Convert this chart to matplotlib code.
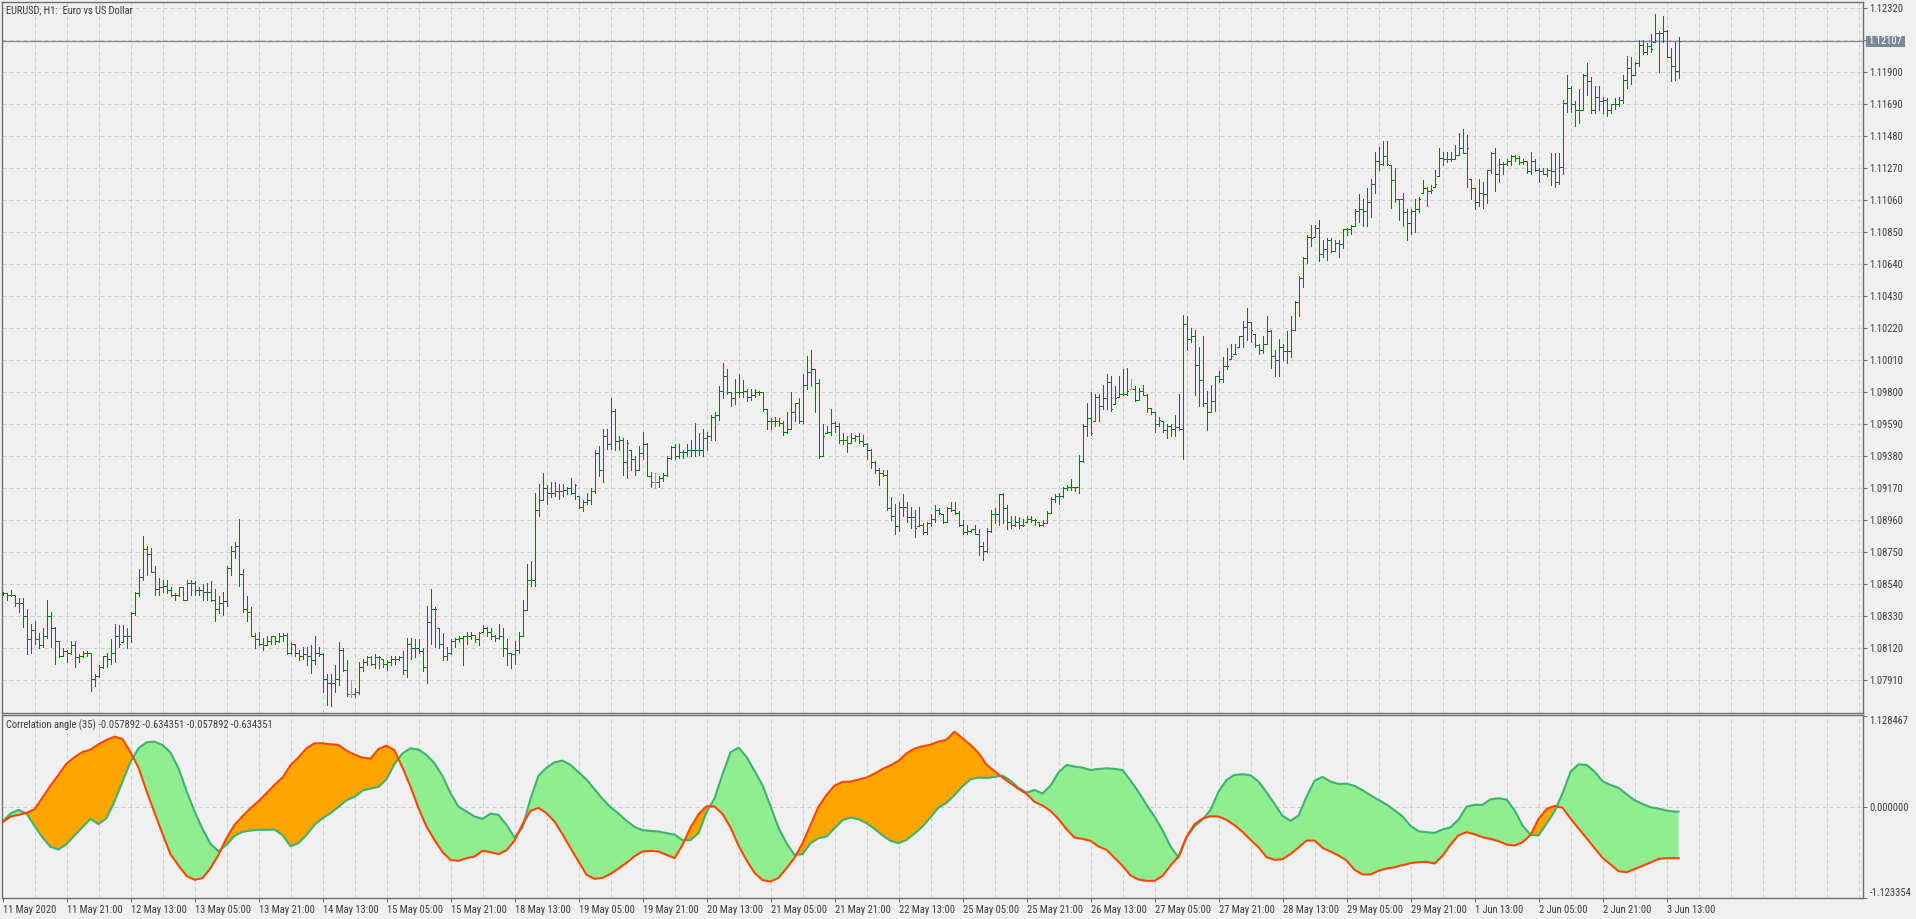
import numpy as np
import matplotlib
matplotlib.use("Agg")
import matplotlib.pyplot as plt
from matplotlib.collections import LineCollection
from matplotlib.patches import Rectangle
from matplotlib import font_manager

# -----------------------------------------------------------------------
# EURUSD H1 bars (bar 0 = 11 May 2020 05:00, one bar per hour)
# -----------------------------------------------------------------------
highs = [
    1.0849, 1.0848, 1.0850, 1.0847, 1.0845, 1.0845, 1.0838, 1.0828, 1.0830, 1.0822,
    1.0825, 1.0844, 1.0836, 1.0826, 1.0817, 1.0812, 1.0811, 1.0817, 1.0817, 1.0808,
    1.0810, 1.0810, 1.0809, 1.0795, 1.0801, 1.0807, 1.0809, 1.0818, 1.0828, 1.0827,
    1.0827, 1.0825, 1.0836, 1.0849, 1.0864, 1.0886, 1.0879, 1.0878, 1.0866, 1.0858,
    1.0857, 1.0857, 1.0852, 1.0848, 1.0852, 1.0852, 1.0857, 1.0857, 1.0856, 1.0852,
    1.0854, 1.0855, 1.0856, 1.0851, 1.0846, 1.0849, 1.0866, 1.0879, 1.0882, 1.0897,
    1.0864, 1.0846, 1.0839, 1.0822, 1.0823, 1.0819, 1.0820, 1.0820, 1.0820, 1.0822,
    1.0822, 1.0822, 1.0816, 1.0815, 1.0811, 1.0813, 1.0813, 1.0814, 1.0820, 1.0813,
    1.0809, 1.0795, 1.0795, 1.0801, 1.0816, 1.0812, 1.0804, 1.0791, 1.0786, 1.0803,
    1.0805, 1.0807, 1.0807, 1.0808, 1.0807, 1.0805, 1.0804, 1.0807, 1.0807, 1.0807,
    1.0810, 1.0819, 1.0819, 1.0818, 1.0818, 1.0812, 1.0840, 1.0851, 1.0839, 1.0825,
    1.0822, 1.0813, 1.0818, 1.0819, 1.0820, 1.0820, 1.0823, 1.0823, 1.0821, 1.0823,
    1.0827, 1.0826, 1.0825, 1.0821, 1.0828, 1.0825, 1.0818, 1.0809, 1.0817, 1.0823,
    1.0844, 1.0867, 1.0869, 1.0914, 1.0920, 1.0927, 1.0919, 1.0921, 1.0921, 1.0920,
    1.0920, 1.0918, 1.0924, 1.0920, 1.0912, 1.0909, 1.0914, 1.0917, 1.0942, 1.0945,
    1.0956, 1.0956, 1.0976, 1.0969, 1.0951, 1.0950, 1.0949, 1.0942, 1.0938, 1.0945,
    1.0954, 1.0947, 1.0928, 1.0927, 1.0925, 1.0927, 1.0938, 1.0945, 1.0946, 1.0946,
    1.0942, 1.0946, 1.0949, 1.0960, 1.0953, 1.0956, 1.0954, 1.0965, 1.0967, 1.0984,
    1.0999, 1.0995, 1.0980, 1.0989, 1.0992, 1.0988, 1.0982, 1.0982, 1.0982, 1.0981,
    1.0980, 1.0969, 1.0963, 1.0964, 1.0963, 1.0961, 1.0967, 1.0980, 1.0973, 1.0976,
    1.0992, 1.1004, 1.1008, 1.0995, 1.0989, 1.0959, 1.0958, 1.0969, 1.0961, 1.0960,
    1.0953, 1.0951, 1.0953, 1.0952, 1.0953, 1.0952, 1.0947, 1.0943, 1.0935, 1.0930,
    1.0929, 1.0929, 1.0911, 1.0907, 1.0908, 1.0913, 1.0908, 1.0905, 1.0903, 1.0905,
    1.0894, 1.0895, 1.0900, 1.0906, 1.0904, 1.0900, 1.0905, 1.0908, 1.0908, 1.0902,
    1.0896, 1.0893, 1.0890, 1.0893, 1.0890, 1.0882, 1.0891, 1.0903, 1.0904, 1.0913,
    1.0914, 1.0906, 1.0899, 1.0899, 1.0898, 1.0897, 1.0899, 1.0899, 1.0897, 1.0895,
    1.0896, 1.0902, 1.0911, 1.0913, 1.0914, 1.0918, 1.0919, 1.0923, 1.0918, 1.0939,
    1.0959, 1.0973, 1.0980, 1.0979, 1.0979, 1.0985, 1.0992, 1.0991, 1.0984, 1.0991,
    1.0995, 1.0996, 1.0989, 1.0984, 1.0983, 1.0985, 1.0979, 1.0970, 1.0967, 1.0964,
    1.0961, 1.0959, 1.0959, 1.0965, 1.0979, 1.1031, 1.1030, 1.1022, 1.1021, 1.1010,
    1.1017, 1.0981, 1.0985, 1.0991, 1.0994, 1.1003, 1.1009, 1.1012, 1.1012, 1.1017,
    1.1027, 1.1035, 1.1026, 1.1018, 1.1012, 1.1017, 1.1030, 1.1021, 1.1008, 1.1015,
    1.1012, 1.1020, 1.1030, 1.1040, 1.1056, 1.1069, 1.1083, 1.1090, 1.1090, 1.1093,
    1.1080, 1.1081, 1.1081, 1.1080, 1.1080, 1.1087, 1.1088, 1.1090, 1.1100, 1.1110,
    1.1107, 1.1114, 1.1120, 1.1138, 1.1141, 1.1145, 1.1145, 1.1129, 1.1127, 1.1107,
    1.1111, 1.1100, 1.1100, 1.1107, 1.1108, 1.1119, 1.1115, 1.1116, 1.1126, 1.1140,
    1.1138, 1.1138, 1.1138, 1.1142, 1.1150, 1.1153, 1.1149, 1.1120, 1.1114, 1.1120,
    1.1118, 1.1126, 1.1138, 1.1140, 1.1133, 1.1131, 1.1133, 1.1136, 1.1136, 1.1135,
    1.1133, 1.1132, 1.1138, 1.1133, 1.1127, 1.1127, 1.1127, 1.1137, 1.1137, 1.1137,
    1.1172, 1.1188, 1.1181, 1.1171, 1.1179, 1.1189, 1.1196, 1.1187, 1.1181, 1.1181,
    1.1174, 1.1173, 1.1169, 1.1173, 1.1174, 1.1188, 1.1201, 1.1200, 1.1197, 1.1211,
    1.1211, 1.1209, 1.1215, 1.1228, 1.1217, 1.1227, 1.1218, 1.1206, 1.1210, 1.1213,
]
lows = [
    1.0847, 1.0844, 1.0846, 1.0840, 1.0836, 1.0826, 1.0808, 1.0809, 1.0815, 1.0812,
    1.0813, 1.0819, 1.0813, 1.0802, 1.0806, 1.0807, 1.0803, 1.0808, 1.0800, 1.0803,
    1.0806, 1.0807, 1.0784, 1.0787, 1.0793, 1.0799, 1.0800, 1.0802, 1.0803, 1.0813,
    1.0816, 1.0812, 1.0816, 1.0834, 1.0846, 1.0857, 1.0860, 1.0862, 1.0847, 1.0847,
    1.0849, 1.0848, 1.0846, 1.0844, 1.0846, 1.0844, 1.0844, 1.0847, 1.0847, 1.0847,
    1.0844, 1.0844, 1.0843, 1.0830, 1.0835, 1.0834, 1.0840, 1.0860, 1.0871, 1.0853,
    1.0836, 1.0830, 1.0820, 1.0812, 1.0814, 1.0811, 1.0814, 1.0815, 1.0815, 1.0816,
    1.0817, 1.0808, 1.0808, 1.0807, 1.0804, 1.0805, 1.0801, 1.0796, 1.0802, 1.0807,
    1.0783, 1.0775, 1.0774, 1.0783, 1.0788, 1.0797, 1.0781, 1.0780, 1.0780, 1.0782,
    1.0797, 1.0801, 1.0801, 1.0799, 1.0799, 1.0800, 1.0798, 1.0801, 1.0802, 1.0804,
    1.0795, 1.0793, 1.0805, 1.0806, 1.0809, 1.0797, 1.0789, 1.0815, 1.0813, 1.0812,
    1.0804, 1.0804, 1.0808, 1.0813, 1.0816, 1.0801, 1.0815, 1.0818, 1.0816, 1.0814,
    1.0823, 1.0820, 1.0818, 1.0817, 1.0818, 1.0807, 1.0801, 1.0799, 1.0802, 1.0809,
    1.0820, 1.0837, 1.0853, 1.0853, 1.0899, 1.0909, 1.0907, 1.0911, 1.0912, 1.0910,
    1.0912, 1.0913, 1.0913, 1.0910, 1.0904, 1.0902, 1.0907, 1.0907, 1.0914, 1.0925,
    1.0921, 1.0943, 1.0943, 1.0942, 1.0942, 1.0926, 1.0924, 1.0929, 1.0926, 1.0929,
    1.0936, 1.0925, 1.0918, 1.0917, 1.0918, 1.0922, 1.0925, 1.0936, 1.0936, 1.0937,
    1.0937, 1.0938, 1.0938, 1.0938, 1.0939, 1.0938, 1.0942, 1.0949, 1.0949, 1.0962,
    1.0976, 1.0979, 1.0971, 1.0972, 1.0977, 1.0977, 1.0974, 1.0975, 1.0977, 1.0978,
    1.0968, 1.0956, 1.0956, 1.0958, 1.0958, 1.0952, 1.0953, 1.0956, 1.0961, 1.0960,
    1.0960, 1.0982, 1.0984, 1.0967, 1.0937, 1.0938, 1.0953, 1.0952, 1.0954, 1.0947,
    1.0946, 1.0941, 1.0947, 1.0948, 1.0947, 1.0945, 1.0936, 1.0930, 1.0927, 1.0919,
    1.0925, 1.0903, 1.0896, 1.0887, 1.0889, 1.0899, 1.0895, 1.0891, 1.0885, 1.0892,
    1.0887, 1.0887, 1.0892, 1.0895, 1.0900, 1.0894, 1.0895, 1.0902, 1.0900, 1.0892,
    1.0887, 1.0887, 1.0888, 1.0887, 1.0873, 1.0870, 1.0875, 1.0888, 1.0894, 1.0893,
    1.0894, 1.0890, 1.0891, 1.0892, 1.0891, 1.0892, 1.0895, 1.0895, 1.0893, 1.0892,
    1.0892, 1.0894, 1.0901, 1.0908, 1.0907, 1.0911, 1.0916, 1.0916, 1.0915, 1.0914,
    1.0934, 1.0951, 1.0952, 1.0961, 1.0961, 1.0969, 1.0969, 1.0968, 1.0972, 1.0977,
    1.0978, 1.0978, 1.0982, 1.0974, 1.0975, 1.0978, 1.0967, 1.0966, 1.0954, 1.0958,
    1.0954, 1.0950, 1.0951, 1.0951, 1.0955, 1.0936, 1.1008, 1.1013, 1.0978, 1.0971,
    1.0971, 1.0955, 1.0967, 1.0968, 1.0987, 1.0987, 1.0995, 1.1002, 1.1005, 1.1010,
    1.1010, 1.1014, 1.1013, 1.1010, 1.1005, 1.1006, 1.1012, 1.0996, 1.0991, 1.0991,
    1.1001, 1.0999, 1.1003, 1.1021, 1.1030, 1.1049, 1.1065, 1.1076, 1.1082, 1.1066,
    1.1069, 1.1067, 1.1072, 1.1073, 1.1069, 1.1075, 1.1083, 1.1084, 1.1089, 1.1092,
    1.1089, 1.1089, 1.1095, 1.1111, 1.1126, 1.1129, 1.1129, 1.1101, 1.1105, 1.1093,
    1.1089, 1.1080, 1.1084, 1.1085, 1.1098, 1.1111, 1.1102, 1.1111, 1.1115, 1.1122,
    1.1129, 1.1131, 1.1132, 1.1133, 1.1136, 1.1137, 1.1115, 1.1107, 1.1100, 1.1102,
    1.1101, 1.1104, 1.1124, 1.1112, 1.1118, 1.1123, 1.1129, 1.1129, 1.1132, 1.1130,
    1.1130, 1.1124, 1.1123, 1.1125, 1.1118, 1.1123, 1.1122, 1.1116, 1.1115, 1.1117,
    1.1123, 1.1164, 1.1164, 1.1155, 1.1157, 1.1165, 1.1175, 1.1163, 1.1163, 1.1165,
    1.1163, 1.1161, 1.1163, 1.1166, 1.1168, 1.1170, 1.1180, 1.1182, 1.1188, 1.1194,
    1.1202, 1.1202, 1.1203, 1.1210, 1.1190, 1.1210, 1.1200, 1.1184, 1.1185, 1.1186,
]
closes = [
    1.0848, 1.0847, 1.0847, 1.0842, 1.0842, 1.0833, 1.0818, 1.0824, 1.0818, 1.0814,
    1.0820, 1.0833, 1.0825, 1.0817, 1.0807, 1.0810, 1.0809, 1.0814, 1.0806, 1.0807,
    1.0809, 1.0809, 1.0792, 1.0794, 1.0800, 1.0807, 1.0805, 1.0809, 1.0820, 1.0815,
    1.0820, 1.0820, 1.0835, 1.0848, 1.0859, 1.0877, 1.0874, 1.0862, 1.0851, 1.0852,
    1.0853, 1.0850, 1.0847, 1.0847, 1.0852, 1.0844, 1.0855, 1.0855, 1.0850, 1.0850,
    1.0849, 1.0849, 1.0844, 1.0838, 1.0842, 1.0843, 1.0865, 1.0876, 1.0879, 1.0861,
    1.0838, 1.0836, 1.0820, 1.0818, 1.0815, 1.0814, 1.0817, 1.0820, 1.0817, 1.0820,
    1.0821, 1.0809, 1.0815, 1.0809, 1.0807, 1.0808, 1.0807, 1.0804, 1.0809, 1.0808,
    1.0792, 1.0789, 1.0789, 1.0792, 1.0811, 1.0798, 1.0782, 1.0782, 1.0783, 1.0800,
    1.0803, 1.0806, 1.0802, 1.0806, 1.0806, 1.0802, 1.0803, 1.0805, 1.0805, 1.0806,
    1.0798, 1.0815, 1.0812, 1.0812, 1.0810, 1.0800, 1.0829, 1.0838, 1.0838, 1.0815,
    1.0807, 1.0809, 1.0817, 1.0818, 1.0819, 1.0820, 1.0820, 1.0821, 1.0818, 1.0822,
    1.0825, 1.0823, 1.0820, 1.0819, 1.0820, 1.0812, 1.0809, 1.0808, 1.0811, 1.0820,
    1.0837, 1.0857, 1.0857, 1.0903, 1.0909, 1.0917, 1.0914, 1.0914, 1.0915, 1.0915,
    1.0916, 1.0917, 1.0914, 1.0919, 1.0905, 1.0908, 1.0909, 1.0915, 1.0940, 1.0929,
    1.0951, 1.0946, 1.0968, 1.0948, 1.0949, 1.0934, 1.0947, 1.0936, 1.0929, 1.0940,
    1.0946, 1.0925, 1.0921, 1.0921, 1.0924, 1.0926, 1.0937, 1.0944, 1.0938, 1.0941,
    1.0941, 1.0942, 1.0942, 1.0942, 1.0942, 1.0950, 1.0951, 1.0964, 1.0965, 1.0981,
    1.0991, 1.0980, 1.0976, 1.0980, 1.0980, 1.0981, 1.0977, 1.0978, 1.0980, 1.0980,
    1.0969, 1.0961, 1.0961, 1.0961, 1.0960, 1.0954, 1.0956, 1.0967, 1.0973, 1.0961,
    1.0985, 1.0993, 1.0995, 1.0986, 1.0938, 1.0951, 1.0954, 1.0960, 1.0958, 1.0949,
    1.0949, 1.0947, 1.0950, 1.0951, 1.0948, 1.0946, 1.0942, 1.0934, 1.0929, 1.0927,
    1.0926, 1.0904, 1.0899, 1.0892, 1.0905, 1.0905, 1.0898, 1.0898, 1.0891, 1.0893,
    1.0888, 1.0894, 1.0897, 1.0903, 1.0901, 1.0895, 1.0904, 1.0903, 1.0901, 1.0893,
    1.0888, 1.0889, 1.0890, 1.0887, 1.0879, 1.0876, 1.0889, 1.0900, 1.0900, 1.0913,
    1.0904, 1.0895, 1.0893, 1.0895, 1.0893, 1.0893, 1.0897, 1.0896, 1.0896, 1.0893,
    1.0894, 1.0901, 1.0910, 1.0912, 1.0912, 1.0917, 1.0918, 1.0918, 1.0918, 1.0935,
    1.0958, 1.0963, 1.0953, 1.0977, 1.0971, 1.0976, 1.0987, 1.0969, 1.0976, 1.0979,
    1.0979, 1.0981, 1.0982, 1.0975, 1.0981, 1.0978, 1.0970, 1.0967, 1.0959, 1.0962,
    1.0955, 1.0958, 1.0956, 1.0957, 1.0956, 1.1025, 1.1015, 1.1017, 1.0998, 1.0988,
    1.0973, 1.0967, 1.0974, 1.0991, 1.0989, 1.0997, 1.0997, 1.1004, 1.1005, 1.1017,
    1.1023, 1.1026, 1.1021, 1.1011, 1.1008, 1.1012, 1.1020, 1.1004, 1.1001, 1.1010,
    1.1007, 1.1007, 1.1021, 1.1039, 1.1055, 1.1068, 1.1082, 1.1081, 1.1088, 1.1071,
    1.1074, 1.1080, 1.1073, 1.1078, 1.1077, 1.1087, 1.1087, 1.1089, 1.1099, 1.1100,
    1.1099, 1.1105, 1.1117, 1.1132, 1.1130, 1.1135, 1.1130, 1.1119, 1.1107, 1.1107,
    1.1098, 1.1091, 1.1099, 1.1100, 1.1107, 1.1114, 1.1112, 1.1113, 1.1117, 1.1134,
    1.1133, 1.1133, 1.1133, 1.1136, 1.1140, 1.1137, 1.1140, 1.1114, 1.1105, 1.1111,
    1.1110, 1.1126, 1.1137, 1.1123, 1.1130, 1.1130, 1.1132, 1.1135, 1.1134, 1.1131,
    1.1132, 1.1125, 1.1132, 1.1126, 1.1125, 1.1123, 1.1126, 1.1125, 1.1118, 1.1128,
    1.1170, 1.1180, 1.1169, 1.1165, 1.1165, 1.1188, 1.1184, 1.1165, 1.1174, 1.1171,
    1.1172, 1.1165, 1.1169, 1.1169, 1.1172, 1.1185, 1.1193, 1.1188, 1.1196, 1.1208,
    1.1203, 1.1207, 1.1205, 1.1216, 1.1216, 1.1217, 1.1200, 1.1194, 1.1191, 1.12107,
]
doji_bars = [87, 163, 282]
last_price = 1.12107

price_ticks = [1.12320, 1.12110, 1.11900, 1.11690, 1.11480, 1.11270, 1.11060,
               1.10850, 1.10640, 1.10430, 1.10220, 1.10010, 1.09800, 1.09590,
               1.09380, 1.09170, 1.08960, 1.08750, 1.08540, 1.08330, 1.08120,
               1.07910]

time_labels = ['11 May 2020', '11 May 21:00', '12 May 13:00', '13 May 05:00',
               '13 May 21:00', '14 May 13:00', '15 May 05:00', '15 May 21:00',
               '18 May 13:00', '19 May 05:00', '19 May 21:00', '20 May 13:00',
               '21 May 05:00', '21 May 21:00', '22 May 13:00', '25 May 05:00',
               '25 May 21:00', '26 May 13:00', '27 May 05:00', '27 May 21:00',
               '28 May 13:00', '29 May 05:00', '29 May 21:00', '1 Jun 13:00',
               '2 Jun 05:00', '2 Jun 21:00', '3 Jun 13:00']
label_bars = list(range(0, 420, 16))

# -----------------------------------------------------------------------
# Correlation angle (35): two buffers, sampled every second bar
# -----------------------------------------------------------------------
ind_bars = list(range(0, 420, 2)) + [419]
corr_green = [
    -0.181, -0.082, -0.037, -0.082, -0.235, -0.379, -0.494, -0.527, -0.461, -0.354,
    -0.251, -0.148, -0.214, -0.140, 0.066, 0.313, 0.556, 0.725, 0.799, 0.808,
    0.766, 0.672, 0.478, 0.198, -0.054, -0.272, -0.457, -0.548, -0.470, -0.358,
    -0.309, -0.293, -0.284, -0.284, -0.280, -0.350, -0.486, -0.449, -0.346, -0.222,
    -0.140, -0.078, 0.000, 0.082, 0.124, 0.202, 0.227, 0.247, 0.342, 0.531,
    0.663, 0.725, 0.709, 0.643, 0.540, 0.383, 0.169, 0.004, -0.058, -0.119,
    -0.148, -0.082, -0.099, -0.222, -0.379, -0.255, 0.103, 0.387, 0.486, 0.552,
    0.573, 0.519, 0.428, 0.338, 0.218, 0.099, -0.004, -0.082, -0.173, -0.247,
    -0.288, -0.297, -0.305, -0.325, -0.342, -0.412, -0.412, -0.325, -0.066, 0.107,
    0.404, 0.676, 0.733, 0.618, 0.445, 0.268, 0.008, -0.260, -0.449, -0.593,
    -0.585, -0.449, -0.387, -0.367, -0.264, -0.165,
    -0.132, -0.152, -0.202, -0.272, -0.354, -0.420, -0.449, -0.408, -0.330, -0.243,
    -0.128, -0.008, 0.049, 0.148, 0.255, 0.342, 0.363, 0.358, 0.371, 0.387,
    0.325, 0.235, 0.177, 0.210, 0.165, 0.264, 0.428, 0.519, 0.499, 0.486,
    0.457, 0.470, 0.478, 0.470, 0.457, 0.325, 0.185, 0.025, -0.119, -0.288,
    -0.490, -0.626, -0.379, -0.239, -0.157, -0.037, 0.190, 0.334, 0.396, 0.404,
    0.391, 0.313, 0.181, 0.037, -0.111, -0.173, -0.107, 0.128, 0.325, 0.371,
    0.313, 0.284, 0.288, 0.260, 0.206, 0.144, 0.087, 0.029, -0.041, -0.119,
    -0.235, -0.301, -0.313, -0.321, -0.280, -0.251, -0.157, 0.004, 0.025, 0.025,
    0.095, 0.107, 0.091, -0.041, -0.231, -0.346, -0.354, -0.206, -0.054, 0.169,
    0.437, 0.527, 0.519, 0.437, 0.317, 0.272, 0.235, 0.157, 0.082, 0.037,
    -0.004, -0.021, -0.045, -0.058, -0.057892,
]
corr_red = [
    -0.190, -0.119, -0.099, -0.074, -0.029, 0.115, 0.264, 0.396, 0.536, 0.614,
    0.680, 0.709, 0.775, 0.828, 0.869, 0.840, 0.676, 0.486, 0.198, -0.070,
    -0.334, -0.585, -0.725, -0.853, -0.902, -0.882, -0.758, -0.593, -0.387, -0.222,
    -0.115, -0.016, 0.070, 0.169, 0.272, 0.363, 0.515, 0.614, 0.725, 0.787,
    0.787, 0.775, 0.766, 0.696, 0.647, 0.610, 0.597, 0.717, 0.758, 0.700,
    0.486, 0.251, -0.016, -0.243, -0.408, -0.560, -0.655, -0.667, -0.634, -0.614,
    -0.544, -0.560, -0.585, -0.536, -0.416, -0.214, -0.049, -0.012, -0.078, -0.181,
    -0.338, -0.511, -0.676, -0.840, -0.890, -0.878, -0.828, -0.762, -0.692, -0.610,
    -0.552, -0.544, -0.552, -0.593, -0.634, -0.470, -0.255, -0.091, 0.008, 0.004,
    -0.087, -0.255, -0.478, -0.659, -0.816, -0.906, -0.923, -0.878, -0.758, -0.630,
    -0.449, -0.222, 0.004, 0.148, 0.264, 0.309,
    0.313, 0.338, 0.363, 0.412, 0.470, 0.515, 0.569, 0.663, 0.721, 0.750,
    0.770, 0.808, 0.832, 0.931, 0.849, 0.766, 0.667, 0.523, 0.441, 0.363,
    0.293, 0.222, 0.161, 0.062, 0.016, -0.049, -0.152, -0.276, -0.379, -0.396,
    -0.420, -0.490, -0.531, -0.630, -0.729, -0.849, -0.898, -0.915, -0.915, -0.853,
    -0.725, -0.614, -0.367, -0.214, -0.144, -0.115, -0.119, -0.161, -0.227, -0.309,
    -0.408, -0.499, -0.622, -0.655, -0.647, -0.581, -0.503, -0.416, -0.416, -0.507,
    -0.552, -0.602, -0.663, -0.779, -0.836, -0.836, -0.791, -0.762, -0.746, -0.721,
    -0.696, -0.684, -0.680, -0.700, -0.606, -0.466, -0.350, -0.313, -0.338, -0.375,
    -0.396, -0.424, -0.466, -0.478, -0.437, -0.346, -0.148, -0.025, 0.012, -0.012,
    -0.144, -0.268, -0.387, -0.511, -0.630, -0.713, -0.795, -0.808, -0.770, -0.729,
    -0.688, -0.643, -0.634, -0.634, -0.634351,
]

# -----------------------------------------------------------------------
# Style
# -----------------------------------------------------------------------
W, H, DPI = 1916, 919, 100
BG = '#f0f0f0'
GRID = '#cbcbcb'
FRAME = '#6e6e6e'
TXT = '#3c3c3c'
BAR = '#008000'

# a narrow face fits the MT5 time labels; fall back to a smaller regular face
names = {f.name for f in font_manager.fontManager.ttflist}
narrow = [n for n in ('Liberation Sans Narrow', 'DejaVu Sans Condensed',
                      'Roboto Condensed', 'Open Sans Condensed') if n in names]
if narrow:
    plt.rcParams['font.family'] = narrow[0]
    FS = 7.6
else:
    plt.rcParams['font.family'] = 'Liberation Sans'
    FS = 6.4

fig = plt.figure(figsize=(W / DPI, H / DPI), dpi=DPI, facecolor=BG)


def px_axes(left, top, right, bottom):
    return fig.add_axes([left / W, 1 - bottom / H, (right - left) / W, (bottom - top) / H])


ax = px_axes(2, 2, 1863, 713)
ax2 = px_axes(2, 715, 1863, 898)

for a in (ax, ax2):
    a.set_facecolor(BG)
    a.set_xlim(-0.125, 465.1)
    for s in a.spines.values():
        s.set_color(FRAME)
        s.set_linewidth(1.0)
    a.vlines(np.arange(8, 465, 8), 0, 1, transform=a.get_xaxis_transform(),
             colors=GRID, linewidth=0.72, linestyles=(0, (4, 3)), zorder=0)

# -----------------------------------------------------------------------
# Price panel
# -----------------------------------------------------------------------
ax.set_ylim(1.076954, 1.123613)
ax.hlines(price_ticks, 0, 1, transform=ax.get_yaxis_transform(),
          colors=GRID, linewidth=0.72, linestyles=(0, (4, 3)), zorder=0)
ax.axhline(last_price, color='#778899', lw=0.9, zorder=1)

x = np.arange(len(closes))
hi = np.array(highs)
lo = np.array(lows)
cl = np.array(closes)
op = np.clip(np.r_[cl[0], cl[:-1]], lo, hi)   # H1 FX bars open at the previous close
op[doji_bars] = cl[doji_bars]

segs, cols = [], []
for i in x:
    c = '#a0a0a0' if i in doji_bars else BAR
    segs += [[(i, lo[i]), (i, hi[i])],
             [(i - 0.3, op[i]), (i, op[i])],
             [(i, cl[i]), (i + 0.3, cl[i])]]
    cols += [c, c, c]
ax.add_collection(LineCollection(segs, colors=cols, linewidths=0.72,
                                 antialiased=False, zorder=3))

ax.set_xticks([])
ax.yaxis.tick_right()
ax.set_yticks(price_ticks)
ax.set_yticklabels(['' if abs(p - 1.12110) < 1e-7 else f'{p:.5f}' for p in price_ticks])
ax.tick_params(axis='y', length=3, width=0.72, color=FRAME, pad=1.5,
               labelsize=FS, labelcolor=TXT)

fig.add_artist(Rectangle((1866 / W, 1 - 47 / H), 39 / W, 11 / H,
                         transform=fig.transFigure, facecolor='#778899',
                         edgecolor='none'))
fig.text(1868 / W, 1 - 41.5 / H, f'{last_price:.5f}', color='white',
         fontsize=FS, ha='left', va='center')

fig.text(6 / W, 1 - 10.5 / H, 'EURUSD, H1:  Euro vs US Dollar', color=TXT,
         fontsize=FS, ha='left', va='center')

# -----------------------------------------------------------------------
# Indicator panel
# -----------------------------------------------------------------------
ax2.set_ylim(-1.1271, 1.1371)
ax2.axhline(0, color=GRID, lw=0.72, ls=(0, (4, 3)), zorder=0)

gb = np.array(ind_bars)
g = np.array(corr_green)
r = np.array(corr_red)
ax2.fill_between(gb, r, g, where=r >= g, interpolate=True, color='#ffa500', lw=0, zorder=1)
ax2.fill_between(gb, r, g, where=g > r, interpolate=True, color='#90ee90', lw=0, zorder=1)
ax2.plot(gb, g, color='#3cb371', lw=1.5, zorder=2)
ax2.plot(gb, r, color='#ff4500', lw=1.5, zorder=3)

ax2.yaxis.tick_right()
ax2.set_yticks([-1.123354, 0.0, 1.128467])
ax2.set_yticklabels(['-1.123354', '0.000000', '1.128467'])
ax2.tick_params(axis='y', length=3, width=0.72, color=FRAME, pad=1.5,
                labelsize=FS, labelcolor=TXT)
yl = ax2.get_yticklabels()
yl[0].set_va('bottom')
yl[2].set_va('top')

ax2.set_xticks(label_bars)
ax2.set_xticklabels(time_labels, ha='left')
ax2.tick_params(axis='x', length=3, width=0.72, color=FRAME, pad=2,
                labelsize=FS, labelcolor=TXT)

fig.text(6 / W, 1 - 725 / H,
         'Correlation angle (35) -0.057892 -0.634351 -0.057892 -0.634351',
         color=TXT, fontsize=FS, ha='left', va='center')

fig.savefig('out.png', dpi=DPI, facecolor=BG)
